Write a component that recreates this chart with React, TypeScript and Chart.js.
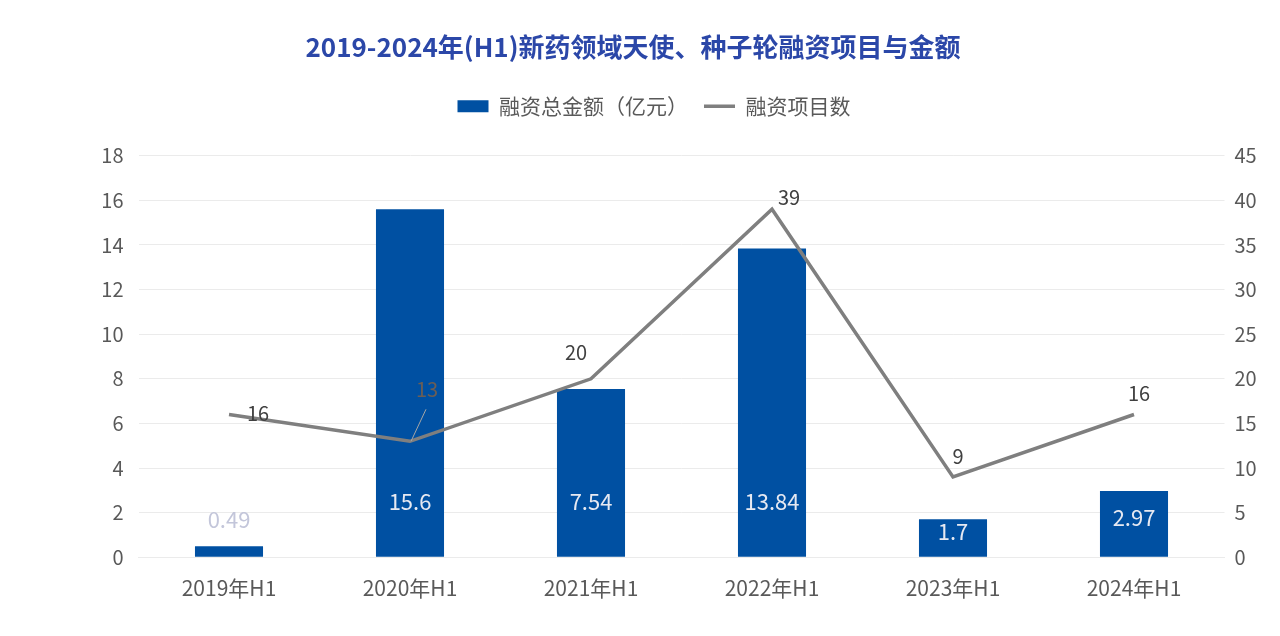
import React, { useEffect, useRef } from "react";
import { Chart, registerables } from "chart.js";

Chart.register(...registerables);

const categories = ["2019年H1", "2020年H1", "2021年H1", "2022年H1", "2023年H1", "2024年H1"];
const amountValues = [0.49, 15.6, 7.54, 13.84, 1.7, 2.97];
const projectCounts = [16, 13, 20, 39, 9, 16];
const leftTicks = [0, 2, 4, 6, 8, 10, 12, 14, 16, 18];
const rightTicks = [0, 5, 10, 15, 20, 25, 30, 35, 40, 45];
const countLabelAligns = ["right", "leader", "top-left", "top-right", "top", "top"];

const FONT = "'Noto Sans CJK SC', 'Noto Sans', sans-serif";
const BAR_COLOR = "#0050A2";
const LINE_COLOR = "#7F7F7F";
const TICK_COLOR = "#595959";
const GRID_COLOR = "#EBEBEB";

const labelPlugin = {
  id: "customLabels",
  beforeLayout(chart: any) {
    const lg = chart.legend;
    if (lg && !lg._spacerPatched) {
      const origFit = lg.fit.bind(lg);
      lg.fit = function () {
        origFit();
        this.height += 29;
      };
      lg._spacerPatched = true;
    }
  },
  afterLayout(chart: any) {
    if (chart.titleBlock) {
      chart.titleBlock.left -= 7;
      chart.titleBlock.right -= 7;
    }
    if (chart.legend) {
      chart.legend.left += 14;
      chart.legend.right += 14;
    }
  },
  afterDatasetsDraw(chart: any) {
    const ctx = chart.ctx;
    ctx.save();
    ctx.textAlign = "center";
    ctx.textBaseline = "middle";
    // bar labels
    const barMeta = chart.getDatasetMeta(0);
    barMeta.data.forEach((bar: any, i: number) => {
      const v = amountValues[i];
      const top = bar.y;
      const bottom = bar.base;
      ctx.font = `22px ${FONT}`;
      if (v < 1) {
        ctx.fillStyle = "#C3C6DA";
        ctx.fillText(String(v), bar.x, top - 27);
      } else {
        ctx.fillStyle = "#E6E9F2";
        const mid = (top + bottom) / 2;
        ctx.fillText(String(v), bar.x, Math.max(mid - 6, bottom - 55));
      }
    });
    // line labels
    const lineMeta = chart.getDatasetMeta(1);
    lineMeta.data.forEach((pt: any, i: number) => {
      const v = projectCounts[i];
      const align = countLabelAligns[i];
      let x = pt.x;
      let y = pt.y;
      ctx.font = `20px ${FONT}`;
      ctx.fillStyle = "#404040";
      if (align === "right") {
        x += 29;
        y -= 1;
      } else if (align === "top") {
        x += 5;
        y -= 21;
      } else if (align === "top-left") {
        x -= 15;
        y -= 26;
      } else if (align === "top-right") {
        x += 17;
        y -= 12;
      } else if (align === "leader") {
        ctx.strokeStyle = "#A6A6A6";
        ctx.lineWidth = 1;
        ctx.beginPath();
        ctx.moveTo(pt.x + 1, pt.y);
        ctx.lineTo(pt.x + 16, pt.y - 32);
        ctx.stroke();
        ctx.fillStyle = "#6B5E55";
        x += 17;
        y -= 52;
      }
      ctx.fillText(String(v), x, y);
    });
    ctx.restore();
  },
};

export default function App() {
  const ref = useRef<HTMLCanvasElement | null>(null);

  useEffect(() => {
    if (!ref.current) return;
    const chart = new Chart(ref.current, {
      type: "bar",
      data: {
        labels: categories,
        datasets: [
          {
            type: "bar",
            label: "融资总金额（亿元）",
            data: amountValues,
            backgroundColor: BAR_COLOR,
            borderWidth: 0,
            barPercentage: 0.376,
            categoryPercentage: 1,
            yAxisID: "y",
            order: 2,
          },
          {
            type: "line",
            label: "融资项目数",
            data: projectCounts,
            borderColor: LINE_COLOR,
            backgroundColor: LINE_COLOR,
            borderWidth: 3.5,
            pointRadius: 0,
            tension: 0,
            yAxisID: "y1",
            order: 1,
          },
        ] as any,
      },
      options: {
        animation: false,
        responsive: true,
        maintainAspectRatio: false,
        layout: { padding: { left: 0, right: 0, top: 14, bottom: 9.5 } },
        plugins: {
          tooltip: { enabled: false },
          title: {
            display: true,
            text: "2019-2024年(H1)新药领域天使、种子轮融资项目与金额",
            color: "#2B47A8",
            font: { family: FONT, size: 26, weight: "bold" },
            padding: { top: 9.5, bottom: 17 },
          },
          legend: {
            display: true,
            position: "top",
            labels: {
              color: TICK_COLOR,
              font: { family: FONT, size: 21 },
              boxWidth: 31,
              boxHeight: 12,
              usePointStyle: true,
              pointStyleWidth: 31,
              padding: 16,
              generateLabels: () => [
                {
                  text: "融资总金额（亿元）",
                  fillStyle: BAR_COLOR,
                  strokeStyle: BAR_COLOR,
                  lineWidth: 0,
                  pointStyle: "rect",
                  datasetIndex: 0,
                  hidden: false,
                  fontColor: TICK_COLOR,
                } as any,
                {
                  text: "融资项目数",
                  fillStyle: LINE_COLOR,
                  strokeStyle: LINE_COLOR,
                  lineWidth: 3.5,
                  pointStyle: "line",
                  datasetIndex: 1,
                  hidden: false,
                  fontColor: TICK_COLOR,
                } as any,
              ],
            },
          },
        },
        scales: {
          x: {
            grid: { display: false, drawTicks: false },
            border: { display: true, color: GRID_COLOR, width: 1 },
            ticks: {
              color: TICK_COLOR,
              font: { family: FONT, size: 21 },
              padding: 18,
            },
          },
          y: {
            position: "left",
            min: 0,
            max: 18,
            afterBuildTicks: (s: any) => {
              s.ticks = leftTicks.map((v) => ({ value: v }));
            },
            afterFit: (s: any) => {
              s.width = 130.5;
            },
            grid: { color: GRID_COLOR, lineWidth: 1, drawTicks: false },
            border: { display: false },
            ticks: {
              color: TICK_COLOR,
              font: { family: FONT, size: 20 },
              padding: 15,
            },
          },
          y1: {
            position: "right",
            min: 0,
            max: 45,
            afterBuildTicks: (s: any) => {
              s.ticks = rightTicks.map((v) => ({ value: v }));
            },
            afterFit: (s: any) => {
              s.width = 47.5;
            },
            grid: { display: false, drawTicks: false },
            border: { display: false },
            ticks: {
              color: TICK_COLOR,
              font: { family: FONT, size: 20 },
              padding: 10,
            },
          },
        },
      } as any,
      plugins: [labelPlugin],
    });
    return () => chart.destroy();
  }, []);

  return (
    <div style={{ width: 1264, height: 620, position: "relative" }}>
      <canvas ref={ref} />
    </div>
  );
}
